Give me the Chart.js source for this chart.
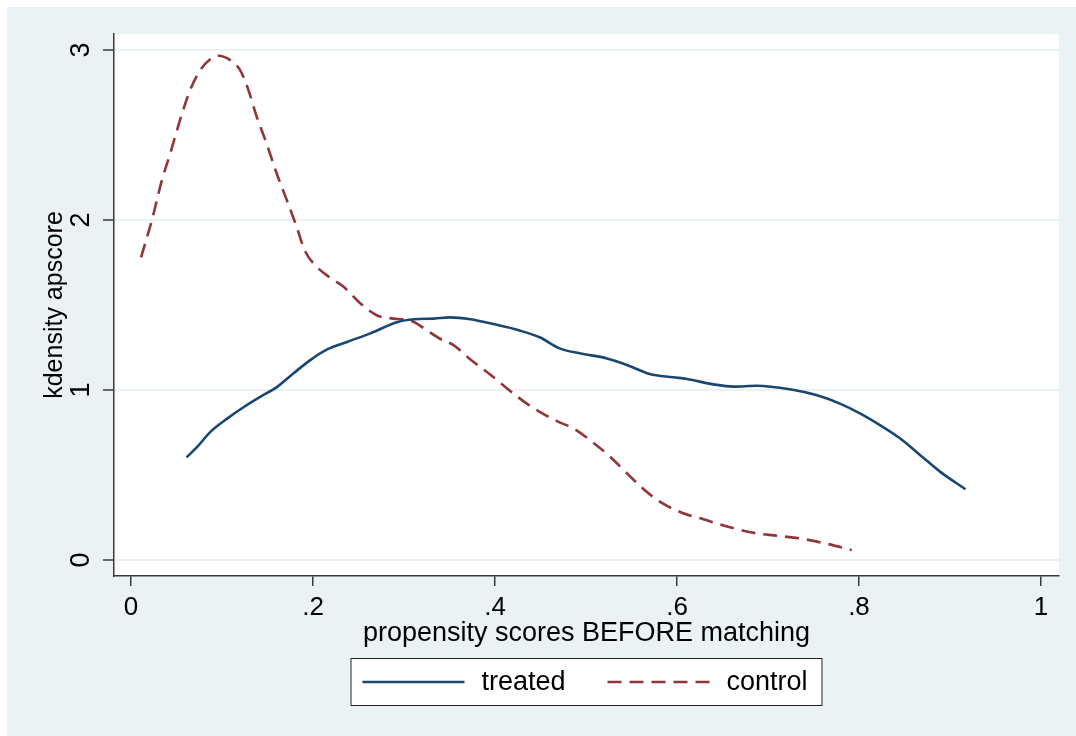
<!DOCTYPE html>
<html>
<head>
<meta charset="utf-8">
<script src="https://cdn.jsdelivr.net/npm/chart.js@4/dist/chart.umd.min.js"></script>
<style>
  html, body { margin: 0; padding: 0; background: #fff; }
  canvas { display: block; }
</style>
</head>
<body>
<canvas id="kd" width="1076" height="736"></canvas>
<script>
// kernel density of the propensity score
const treatedX = [0.061, 0.073, 0.0875, 0.106, 0.124, 0.142, 0.161, 0.179, 0.197, 0.216, 0.238, 0.263, 0.293, 0.311, 0.333, 0.350, 0.373, 0.398, 0.427, 0.449, 0.471, 0.493, 0.523, 0.545, 0.570, 0.596, 0.611, 0.640, 0.662, 0.688, 0.724, 0.753, 0.779, 0.801, 0.823, 0.845, 0.867, 0.889, 0.917];
const treatedY = [0.604, 0.667, 0.755, 0.833, 0.90, 0.96, 1.02, 1.10, 1.176, 1.24, 1.284, 1.333, 1.40, 1.416, 1.42, 1.427, 1.416, 1.388, 1.35, 1.31, 1.245, 1.216, 1.186, 1.147, 1.094, 1.075, 1.065, 1.033, 1.02, 1.025, 1.004, 0.97, 0.92, 0.863, 0.794, 0.716, 0.618, 0.52, 0.416];

const controlX = [0.011, 0.023, 0.034, 0.043, 0.054, 0.065, 0.076, 0.087, 0.096, 0.109, 0.120, 0.129, 0.138, 0.149, 0.160, 0.171, 0.182, 0.191, 0.204, 0.219, 0.233, 0.252, 0.270, 0.288, 0.300, 0.311, 0.320, 0.331, 0.340, 0.354, 0.373, 0.395, 0.413, 0.435, 0.453, 0.471, 0.486, 0.508, 0.526, 0.545, 0.567, 0.581, 0.607, 0.629, 0.653, 0.684, 0.710, 0.735, 0.761, 0.792];
const controlY = [1.78, 2.00, 2.235, 2.39, 2.59, 2.765, 2.88, 2.945, 2.966, 2.94, 2.88, 2.765, 2.61, 2.45, 2.275, 2.12, 1.96, 1.82, 1.725, 1.66, 1.61, 1.51, 1.44, 1.42, 1.415, 1.40, 1.37, 1.33, 1.30, 1.265, 1.18, 1.09, 1.01, 0.92, 0.86, 0.81, 0.775, 0.69, 0.61, 0.51, 0.40, 0.343, 0.275, 0.24, 0.20, 0.16, 0.143, 0.127, 0.10, 0.059];

const xTickValues = [0, 0.2, 0.4, 0.6, 0.8, 1];
const xTickLabels = ['0', '.2', '.4', '.6', '.8', '1'];
const yTickValues = [0, 1, 2, 3];
const yTickLabels = ['0', '1', '2', '3'];

const seriesNames = ['treated', 'control'];

const navy = '#1a476f';
const maroon = '#90353b';
const bgColor = '#eaf2f3';
const axisColor = '#3a3a3a';
const FONT = 'Liberation Sans, Arial, Helvetica, sans-serif';

function toPoints(xs, ys) {
  return xs.map((x, i) => ({ x: x, y: ys[i] }));
}

// stata-like backdrop: light graph region, white plot region
const backdrop = {
  id: 'backdrop',
  beforeDraw(chart) {
    const { ctx, chartArea: a } = chart;
    ctx.save();
    ctx.fillStyle = '#fff';
    ctx.fillRect(0, 0, chart.width, chart.height);
    ctx.fillStyle = bgColor;
    ctx.fillRect(7, 7, chart.width - 7, chart.height - 7);
    ctx.fillStyle = '#fff';
    ctx.fillRect(a.left, a.top, a.right - a.left, a.bottom - a.top);
    ctx.restore();
  }
};

// boxed legend under the x title
const boxLegend = {
  id: 'boxLegend',
  afterDraw(chart) {
    const { ctx, chartArea: a } = chart;
    const cx = (a.left + a.right) / 2;
    const top = 658, h = 48, w = 472;
    const left = cx - w / 2;
    ctx.save();
    ctx.fillStyle = '#fff';
    ctx.fillRect(left, top, w, h);
    ctx.strokeStyle = '#222';
    ctx.lineWidth = 1;
    ctx.strokeRect(left + 0.5, top + 0.5, w - 1, h - 1);
    const midY = top + h / 2;
    const starts = [left + 12, left + 257];
    chart.data.datasets.forEach((ds, i) => {
      const x0 = starts[i];
      ctx.strokeStyle = ds.borderColor;
      ctx.lineWidth = ds.borderWidth;
      ctx.setLineDash(ds.borderDash || []);
      ctx.beginPath();
      ctx.moveTo(x0, midY);
      ctx.lineTo(x0 + 102, midY);
      ctx.stroke();
      ctx.setLineDash([]);
      ctx.fillStyle = '#000';
      ctx.font = '27px ' + FONT;
      ctx.textAlign = 'left';
      ctx.textBaseline = 'middle';
      ctx.fillText(ds.label, x0 + 119, midY + 1);
    });
    ctx.restore();
  }
};

new Chart(document.getElementById('kd'), {
  type: 'line',
  data: {
    datasets: [
      {
        label: seriesNames[0],
        data: toPoints(treatedX, treatedY),
        borderColor: navy,
        borderWidth: 2.6,
        pointRadius: 0,
        fill: false,
        cubicInterpolationMode: 'monotone'
      },
      {
        label: seriesNames[1],
        data: toPoints(controlX, controlY),
        borderColor: maroon,
        borderWidth: 2.6,
        borderDash: [14, 8],
        pointRadius: 0,
        fill: false,
        cubicInterpolationMode: 'monotone'
      }
    ]
  },
  options: {
    responsive: false,
    animation: false,
    layout: { padding: { top: 34, right: 17, left: 0, bottom: 0 } },
    plugins: {
      legend: { display: false },
      tooltip: { enabled: false }
    },
    scales: {
      x: {
        type: 'linear',
        min: -0.0187,
        max: 1.0198,
        afterFit(scale) { scale.height = 160; },
        afterBuildTicks(scale) { scale.ticks = xTickValues.map(v => ({ value: v })); },
        border: { display: true, color: axisColor, width: 1.5 },
        grid: { drawOnChartArea: false, drawTicks: true, tickLength: 10, color: axisColor, lineWidth: 1.5 },
        ticks: {
          padding: 6,
          color: '#000',
          font: { family: FONT, size: 26 },
          autoSkip: false,
          maxRotation: 0,
          callback: (v) => xTickLabels[xTickValues.indexOf(v)]
        },
        title: {
          display: true,
          text: 'propensity scores BEFORE matching',
          color: '#000',
          font: { family: FONT, size: 27 },
          padding: { top: 0, bottom: 86 }
        }
      },
      y: {
        type: 'linear',
        min: -0.094,
        max: 3.094,
        afterFit(scale) { scale.width = 114; },
        afterBuildTicks(scale) { scale.ticks = yTickValues.map(v => ({ value: v })); },
        border: { display: true, color: axisColor, width: 1.5 },
        grid: { color: bgColor, lineWidth: 2, drawTicks: true, tickLength: 11, tickColor: axisColor, tickWidth: 1.5 },
        ticks: {
          padding: 14,
          color: '#000',
          crossAlign: 'center',
          minRotation: 90,
          maxRotation: 90,
          font: { family: FONT, size: 27 },
          callback: (v) => yTickLabels[yTickValues.indexOf(v)]
        },
        title: {
          display: true,
          text: 'kdensity apscore',
          color: '#000',
          font: { family: FONT, size: 25 },
          padding: { top: 40, bottom: 0 }
        }
      }
    }
  },
  plugins: [backdrop, boxLegend]
});
</script>
</body>
</html>
